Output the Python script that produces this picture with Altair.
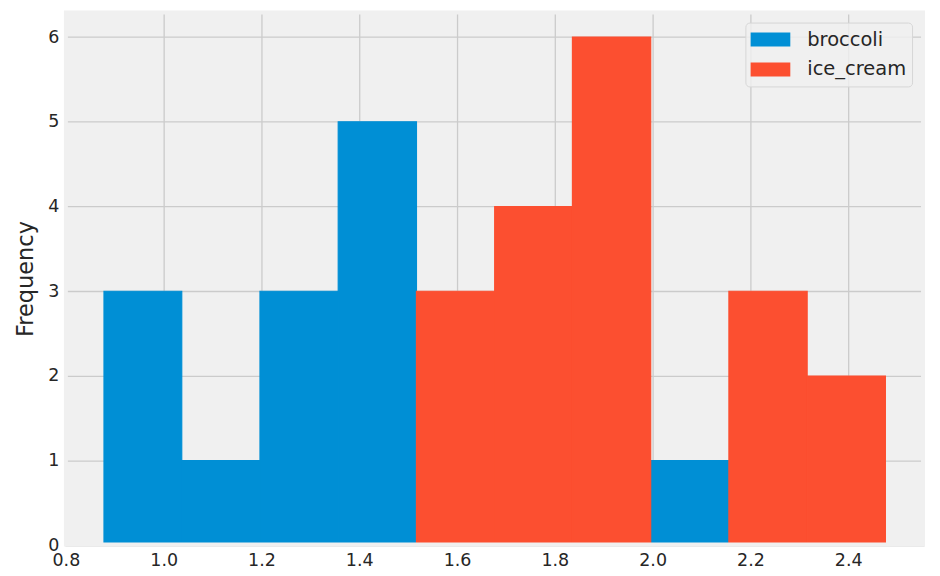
import pandas as pd
import altair as alt

# histogram bins (edges) and counts per series
bin_edges = [0.878, 1.037, 1.197, 1.357, 1.517, 1.677, 1.836, 1.996, 2.156, 2.316, 2.476]
broccoli_counts = [3, 1, 3, 5, 0, 0, 0, 1, 0, 0]
ice_cream_counts = [0, 0, 0, 0, 3, 4, 6, 0, 3, 2]
series_names = ["broccoli", "ice_cream"]
series_colors = ["#008fd5", "#fc4f30"]
x_ticks = [0.8, 1.0, 1.2, 1.4, 1.6, 1.8, 2.0, 2.2, 2.4]
y_ticks = [0, 1, 2, 3, 4, 5, 6]

rows = []
for name, counts in zip(series_names, [broccoli_counts, ice_cream_counts]):
    for i, c in enumerate(counts):
        if c > 0:
            rows.append({"series": name, "start": bin_edges[i], "end": bin_edges[i + 1], "count": c})
df = pd.DataFrame(rows)

FONT = "DejaVu Sans"
W, H = 861, 535
color_scale = alt.Scale(domain=series_names, range=series_colors)

# thin same-colour stroke hides the anti-aliasing seams between touching bars
bars = alt.Chart(df).mark_rect(strokeWidth=1.2).encode(
    x=alt.X("start:Q", title=None,
            scale=alt.Scale(domain=[0.798, 2.555], nice=False, zero=False),
            axis=alt.Axis(values=x_ticks, format=".1f", ticks=False, domain=False,
                          labelFontSize=17.5, labelColor="#262626", labelPadding=6,
                          gridColor="#cbcbcb", gridWidth=1.3, labelFlush=False)),
    x2="end:Q",
    y=alt.Y("count:Q", title="Frequency",
            scale=alt.Scale(domain=[0, 6.3], nice=False),
            axis=alt.Axis(values=y_ticks, ticks=False, domain=False,
                          labelFontSize=17.5, labelColor="#262626", labelPadding=6,
                          titleFontSize=22.5, titleFontWeight="normal", titleColor="#262626",
                          titlePadding=10, gridColor="#cbcbcb", gridWidth=1.3)),
    y2=alt.datum(0),
    stroke=alt.Stroke("series:N", scale=color_scale, legend=None),
    color=alt.Color("series:N", title=None, scale=color_scale,
                    legend=alt.Legend(orient="none", legendX=682, legendY=11,
                                      symbolType="M-1,-0.35L1,-0.35L1,0.35L-1,0.35Z",
                                      symbolSize=1600, symbolStrokeWidth=0, symbolOpacity=1,
                                      labelFontSize=19.5, labelColor="#262626", labelOffset=17,
                                      clipHeight=24, rowPadding=6, padding=5,
                                      fillColor="rgba(240,240,240,0.8)", strokeColor="#d6d6d6",
                                      cornerRadius=4)),
)

# thick spines in the background colour, drawn over the bars like matplotlib's
frame = alt.Chart(pd.DataFrame({"a": [0]})).mark_rect(
    filled=False, stroke="#f0f0f0", strokeWidth=4,
    xOffset=1, x2Offset=-1, yOffset=1, y2Offset=-1
).encode(x=alt.value(0), x2=alt.value("width"), y=alt.value(0), y2=alt.value("height"))

chart = alt.layer(bars, frame).properties(
    width=W, height=H,
    autosize=alt.AutoSizeParams(type="none"),
    padding={"left": 57, "top": 3, "right": 8, "bottom": 30},
    background="white",
).configure(font=FONT).configure_view(fill="#f0f0f0", strokeWidth=0)

chart.save("out.html", embed_options={"renderer": "svg", "actions": False})
